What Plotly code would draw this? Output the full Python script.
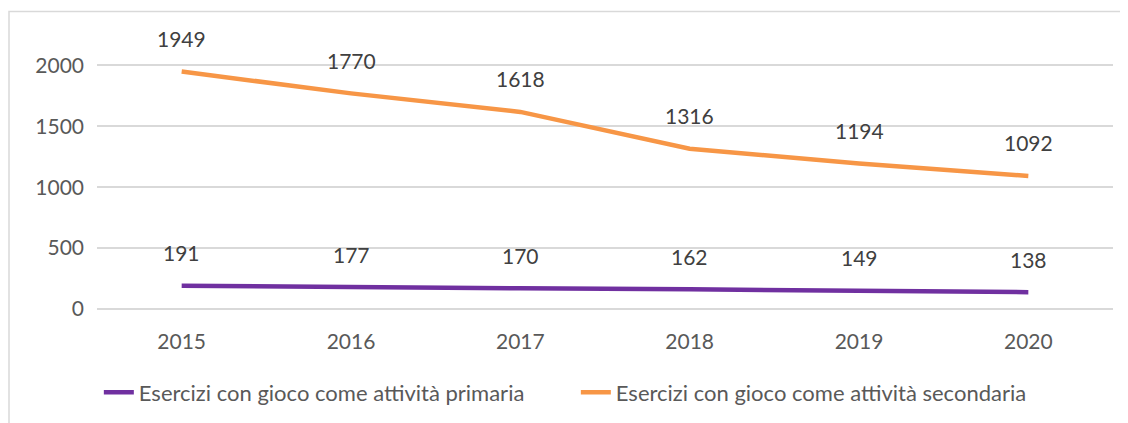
import plotly.graph_objects as go

years = ["2015", "2016", "2017", "2018", "2019", "2020"]
primaria = [191, 177, 170, 162, 149, 138]
secondaria = [1949, 1770, 1618, 1316, 1194, 1092]
name_primaria = "Esercizi con gioco come attività primaria"
name_secondaria = "Esercizi con gioco come attività secondaria"

PURPLE = "#7030A0"
ORANGE = "#F79646"
FONT = "Lato"
FS = 21

fig = go.Figure()
fig.add_trace(go.Scatter(x=years, y=primaria, mode="lines", name=name_primaria,
                         line=dict(color=PURPLE, width=4.5)))
fig.add_trace(go.Scatter(x=years, y=secondaria, mode="lines", name=name_secondaria,
                         line=dict(color=ORANGE, width=4.5)))

for ys in (primaria, secondaria):
    for i, y in enumerate(ys):
        fig.add_annotation(x=i, y=y, xref="x", yref="y", text=str(y), showarrow=False,
                           yshift=33, font=dict(family=FONT, size=FS, color="#404040"))

OFF = 8  # page body offset
W_FIG, H_FIG = 1128 - OFF, 423 - OFF
L, T = 97 - OFF, 40.6 - OFF
PW, H = 1016, 268
R = W_FIG - L - PW
B = H_FIG - T - H

fig.add_shape(type="rect", xref="paper", yref="paper",
              x0=(9 - 97) / PW, x1=1.2, y0=-0.6, y1=(308.5 - 11) / H,
              line=dict(color="#d9d9d9", width=1.5), layer="below")

fig.update_layout(
    width=W_FIG, height=H_FIG,
    margin=dict(l=L, r=R, t=T, b=B, autoexpand=False),
    paper_bgcolor="white", plot_bgcolor="white",
    font=dict(family=FONT, size=FS, color="#595959"),
    showlegend=True,
    legend=dict(orientation="h", x=(109 - 97) / PW - 0.01, xanchor="left",
                y=(308.5 - 392) / H, yanchor="middle",
                entrywidth=432, entrywidthmode="pixels",
                font=dict(family=FONT, size=22, color="#595959"),
                bgcolor="rgba(0,0,0,0)"),
    xaxis=dict(type="category", range=[-0.5, 5.5], showgrid=False, zeroline=False,
               showline=False, ticks="", ticklabelstandoff=18),
    yaxis=dict(range=[0, 2200], tickvals=[0, 500, 1000, 1500, 2000],
               showgrid=True, gridcolor="#d9d9d9", gridwidth=1.5,
               zeroline=True, zerolinecolor="#d9d9d9", zerolinewidth=1.5,
               showline=False, ticks="", ticklabelstandoff=12),
)

fig.write_html("out.html")
